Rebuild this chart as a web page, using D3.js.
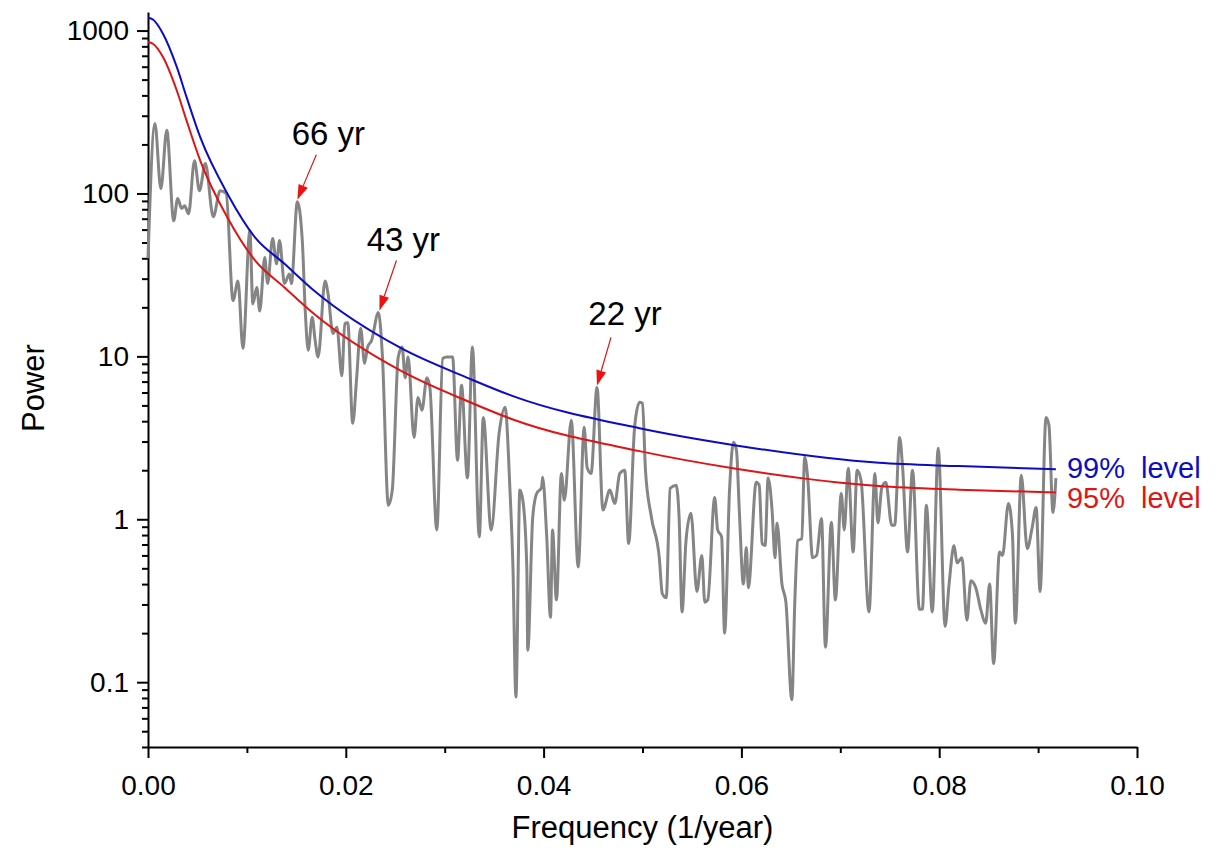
<!DOCTYPE html>
<html lang="en">
<head>
  <meta charset="UTF-8" />
  <title>Power spectrum with significance levels</title>
  <style>
    body { margin: 0; background: #fff; }
    svg text { font-family: Arial, "Liberation Sans", sans-serif; }
  </style>
</head>
<body>
  <div id="chart"></div>

  <script src="https://d3js.org/d3.v7.min.js"></script>

  <script>
    // spectrum (grey line)
    const freq = [
      0, 0.0007, 0.0013, 0.0019, 0.0026, 0.0030, 0.0034, 0.0037, 0.0041, 0.0047,
      0.0052, 0.0058, 0.0066, 0.0073, 0.0079, 0.0086, 0.0091, 0.0096, 0.0103, 0.0106,
      0.0110, 0.0113, 0.0118, 0.0121, 0.0126, 0.0130, 0.0133, 0.0138, 0.0143, 0.0145,
      0.0151, 0.0156, 0.0159, 0.0162, 0.0166, 0.0169, 0.0172, 0.0179, 0.0182, 0.0187,
      0.0191, 0.0196, 0.0199, 0.0202, 0.0207, 0.0211, 0.0215, 0.0219, 0.0222, 0.0226,
      0.0233, 0.0237, 0.0243, 0.0247, 0.0253, 0.0257, 0.0260, 0.0263, 0.0269, 0.0273,
      0.0277, 0.0282, 0.0285, 0.0292, 0.0298, 0.0302, 0.0308, 0.0313, 0.0317, 0.0323,
      0.0328, 0.0335, 0.0339, 0.0347, 0.0355, 0.0361, 0.0366, 0.0369, 0.0372, 0.0376,
      0.0379, 0.0383, 0.0384, 0.0389, 0.0393, 0.0398, 0.0399, 0.0403, 0.0407, 0.0409,
      0.0413, 0.0418, 0.0421, 0.0428, 0.0435, 0.0441, 0.0444, 0.0448, 0.0454, 0.0460,
      0.0467, 0.0472, 0.0477, 0.0482, 0.0486, 0.0492, 0.0497, 0.0500, 0.0503, 0.0509,
      0.0517, 0.0520, 0.0524, 0.0528, 0.0534, 0.0537, 0.0540, 0.0544, 0.0549, 0.0555,
      0.0560, 0.0563, 0.0566, 0.0573, 0.0576, 0.0580, 0.0583, 0.0588, 0.0592, 0.0595,
      0.0598, 0.0602, 0.0605, 0.0607, 0.0615, 0.0618, 0.0621, 0.0624, 0.0627, 0.0631,
      0.0634, 0.0636, 0.0641, 0.0645, 0.0651, 0.0654, 0.0657, 0.0661, 0.0664, 0.0667,
      0.0672, 0.0676, 0.0681, 0.0685, 0.0691, 0.0695, 0.0701, 0.0704, 0.0708, 0.0713,
      0.0717, 0.0721, 0.0729, 0.0735, 0.0738, 0.0742, 0.0746, 0.0752, 0.0755, 0.0760,
      0.0763, 0.0768, 0.0773, 0.0780, 0.0783, 0.0787, 0.0793, 0.0799, 0.0806, 0.0810,
      0.0815, 0.0818, 0.0823, 0.0828, 0.0832, 0.0837, 0.0842, 0.0847, 0.0851, 0.0855,
      0.0861, 0.0864, 0.0870, 0.0874, 0.0877, 0.0883, 0.0889, 0.0894, 0.0898, 0.0902,
      0.0908, 0.0911, 0.0915, 0.0918
    ];
    const power = [
      40, 269, 107, 244, 68, 93, 81, 84, 75, 159,
      104, 153, 72, 104, 100, 22, 29, 11.2, 59, 21,
      26.5, 19, 40.5, 28, 53, 37, 51.5, 28, 32, 28,
      89, 51.5, 19, 10.9, 17.4, 12.5, 9.9, 29, 24.4, 13.8,
      15.1, 7.6, 15.9, 16.1, 3.88, 7.4, 14.9, 9.06, 11.4, 12.5,
      18.6, 10.1, 1.22, 1.51, 9.9, 11.4, 7.4, 9.9, 3.18, 5.6,
      4.67, 7.4, 6.45, 0.86, 9.7, 9.9, 9.9, 2.3, 6.64, 1.79,
      11.4, 0.78, 4.22, 0.86, 3.37, 4.87, 1.51, 0.51, 0.081, 1.51,
      1.31, 0.51, 0.157, 1.03, 1.44, 1.57, 1.81, 0.82, 0.25, 0.86,
      0.32, 1.91, 1.31, 4.05, 0.51, 3.67, 2.08, 1.91, 6.45, 1.14,
      1.51, 1.25, 1.91, 2.0, 0.71, 3.67, 5.22, 5.15, 2.0, 1.03,
      0.58, 0.35, 0.33, 1.55, 1.62, 1.03, 0.27, 0.74, 1.09, 0.36,
      0.60, 0.31, 0.32, 1.36, 0.86, 0.78, 0.20, 1.51, 2.97, 2.65,
      1.09, 0.40, 0.67, 0.38, 1.69, 1.62, 0.71, 0.69, 1.79, 1.14,
      0.58, 0.95, 0.40, 0.31, 0.078, 0.31, 0.74, 0.76, 2.40, 1.81,
      0.58, 0.60, 1.01, 0.164, 0.96, 0.32, 1.44, 0.86, 2.06, 0.63,
      2.0, 1.73, 0.27, 1.91, 0.95, 1.57, 1.69, 0.92, 0.92, 3.18,
      2.08, 0.63, 2.0, 0.28, 0.28, 1.22, 0.27, 2.73, 0.22, 0.40,
      0.69, 0.54, 0.58, 0.24, 0.42, 0.38, 0.28, 0.23, 0.40, 0.13,
      0.63, 0.60, 1.25, 0.82, 0.23, 1.86, 0.66, 0.89, 1.18, 0.36,
      4.22, 3.77, 1.10, 1.79
    ];

    // significance levels
    const levelFreq = [0, 0.0005, 0.0015, 0.0029, 0.0039, 0.0053, 0.0081, 0.0108, 0.0138, 0.0169,
                       0.0255, 0.0325, 0.0369, 0.0497, 0.0593, 0.0739, 0.082, 0.0918];
    const level99 = [1200, 1170, 960, 600, 390, 220, 98, 54, 37, 25,
                     11.3, 7.3, 5.7, 3.62, 2.85, 2.22, 2.12, 2.03];
    const level95 = [850, 830, 690, 430, 280, 158, 70, 39, 26.5, 18,
                     8.2, 5.25, 4.1, 2.62, 2.05, 1.6, 1.52, 1.46];

    const levelNames = ["99%  level", "95%  level"];

    // peaks that are marked with arrows
    const peakLabels = ["66 yr", "43 yr", "22 yr"];
    const peakFreq = [0.0151, 0.0234, 0.0454];
    const peakPower = [89, 18.6, 6.45];

    const xMajor = [0, 0.02, 0.04, 0.06, 0.08, 0.10];
    const xMinor = [0.01, 0.03, 0.05, 0.07, 0.09];
    const yMajor = [0.1, 1, 10, 100, 1000];
    const yMajorLabels = ["0.1", "1", "10", "100", "1000"];

    const width = 1226, height = 859;

    const svg = d3.select("#chart")
      .append("svg")
      .attr("width", width)
      .attr("height", height);

    svg.append("rect").attr("width", width).attr("height", height).attr("fill", "#fff");

    const x = d3.scaleLinear().domain([0, 0.1]).range([148, 1137]);
    const y = d3.scaleLog().domain([0.04, 1300]).range([747, 12]);

    // minor log ticks: 2..9 of each decade, inside the domain
    const yMinor = [];
    [0.01, 0.1, 1, 10, 100].forEach(d => {
      for (let k = 2; k <= 9; k++) {
        const v = +(d * k).toPrecision(3);
        if (v >= 0.04 && v <= 1300) yMinor.push(v);
      }
    });

    // axes
    const xAxis = svg.append("g")
      .attr("transform", `translate(0,${y.range()[0]})`)
      .call(d3.axisBottom(x).tickValues(xMajor).tickFormat(d3.format(".2f"))
        .tickSize(11).tickSizeOuter(0).tickPadding(10));
    svg.append("g")
      .attr("transform", `translate(0,${y.range()[0]})`)
      .call(d3.axisBottom(x).tickValues(xMinor).tickFormat("").tickSize(6).tickSizeOuter(0))
      .select(".domain").remove();

    const yAxis = svg.append("g")
      .attr("transform", `translate(${x.range()[0]},0)`)
      .call(d3.axisLeft(y).tickValues(yMajor).tickFormat((d, i) => yMajorLabels[i])
        .tickSize(11).tickSizeOuter(0).tickPadding(8));
    svg.append("g")
      .attr("transform", `translate(${x.range()[0]},0)`)
      .call(d3.axisLeft(y).tickValues(yMinor).tickFormat("").tickSize(6).tickSizeOuter(0))
      .select(".domain").remove();

    svg.selectAll(".domain").attr("stroke", "#000").attr("stroke-width", 2);
    svg.selectAll(".tick line").attr("stroke", "#000").attr("stroke-width", 2);
    svg.selectAll(".tick text").attr("fill", "#000").attr("font-size", "28px")
      .attr("font-family", "Arial, 'Liberation Sans', sans-serif");
    xAxis.selectAll(".tick text").attr("dy", "0.95em");

    // axis titles
    svg.append("text")
      .attr("x", (x.range()[0] + x.range()[1]) / 2)
      .attr("y", 838)
      .attr("text-anchor", "middle")
      .attr("font-size", "31px")
      .text("Frequency (1/year)");

    svg.append("text")
      .attr("transform", "translate(44,388) rotate(-90)")
      .attr("text-anchor", "middle")
      .attr("font-size", "31px")
      .text("Power");

    // lines
    const spectrum = freq.map((f, i) => [f, power[i]]);
    const line = d3.line()
      .x(d => x(d[0]))
      .y(d => y(d[1]))
      .curve(d3.curveMonotoneX);

    const levels = [
      { name: levelNames[0], values: levelFreq.map((f, i) => [f, level99[i]]), color: "#0c0cc4", dy: 9 },
      { name: levelNames[1], values: levelFreq.map((f, i) => [f, level95[i]]), color: "#e01414", dy: 16 }
    ];

    svg.append("path")
      .datum(spectrum)
      .attr("fill", "none")
      .attr("stroke", "#858585")
      .attr("stroke-width", 3)
      .attr("stroke-linejoin", "round")
      .attr("d", line);

    svg.selectAll(".level")
      .data(levels)
      .enter()
      .append("path")
      .attr("class", "level")
      .attr("fill", "none")
      .attr("stroke", d => d.color)
      .attr("stroke-width", 2)
      .attr("d", d => line(d.values));

    svg.selectAll(".level-label")
      .data(levels)
      .enter()
      .append("text")
      .attr("class", "level-label")
      .attr("x", d => x(d.values[d.values.length - 1][0]) + 11)
      .attr("y", d => y(d.values[d.values.length - 1][1]) + d.dy)
      .attr("font-size", "29px")
      .attr("fill", d => d.color)
      .style("white-space", "pre")
      .text(d => d.name);

    // arrows to the peaks
    const arrowTail = [[19, -45], [17, -50], [14, -48]];
    const labelOffset = [[12, -10], [7, -9], [14, -12]];

    peakLabels.forEach((label, i) => {
      const tx = x(peakFreq[i]), ty = y(peakPower[i]) - 2;
      const sx = tx + arrowTail[i][0], sy = ty + arrowTail[i][1];
      const ang = Math.atan2(ty - sy, tx - sx);
      const len = 15, half = 5;
      const bx = tx - len * Math.cos(ang), by = ty - len * Math.sin(ang);
      const nx = -Math.sin(ang) * half, ny = Math.cos(ang) * half;

      svg.append("line")
        .attr("x1", sx).attr("y1", sy).attr("x2", bx).attr("y2", by)
        .attr("stroke", "#e01414").attr("stroke-width", 1.2);
      svg.append("path")
        .attr("d", `M${tx},${ty}L${bx + nx},${by + ny}L${bx - nx},${by - ny}Z`)
        .attr("fill", "#f01010");
      svg.append("text")
        .attr("x", sx + labelOffset[i][0])
        .attr("y", sy + labelOffset[i][1])
        .attr("text-anchor", "middle")
        .attr("font-size", "33px")
        .attr("fill", "#000")
        .text(label);
    });
  </script>
</body>
</html>
